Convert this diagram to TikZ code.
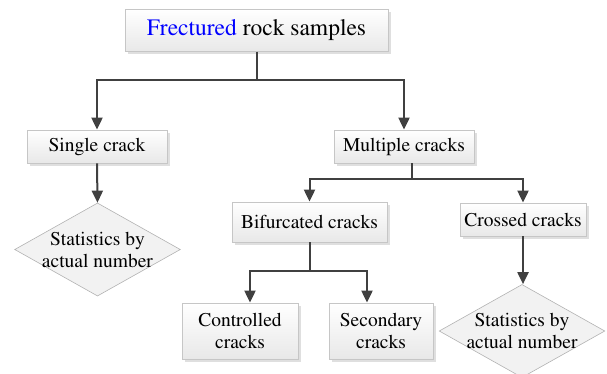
\documentclass[tikz,border=0pt]{standalone}
\usepackage[T1]{fontenc}
\usepackage{mathptmx}
\usetikzlibrary{positioning, shapes, arrows.meta, shadows}

\begin{document}
\begin{tikzpicture}[x=1pt, y=-1pt,
      box/.style={rectangle, draw=gray!45, line width=0.8pt, top color=white, bottom color=gray!18,
        drop shadow={shadow xshift=2.5pt, shadow yshift=-2.5pt, opacity=0.25},
        font=\fontsize{19.5}{22}\selectfont, align=center, inner sep=0pt},
      dec/.style={diamond, draw=gray!60, line width=0.6pt, fill=gray!10, aspect=1.78,
        inner sep=-1.5pt, font=\fontsize{19.5}{22}\selectfont, align=center},
      link/.style={draw=black!75, line width=2pt, -{Triangle[width=11pt, length=12pt]}}]
      \useasboundingbox (0,0) rectangle (607,373);
      \node[box, minimum width=263pt, minimum height=42pt, font=\fontsize{23.5}{26}\selectfont] (samples) at (256.5,30.5) {\textcolor{blue}{Frectured} rock samples};
      \node[box, minimum width=140pt, minimum height=33pt] (single) at (97,146.5) {Single crack};
      \node[box, minimum width=140pt, minimum height=33pt] (multiple) at (404,146.5) {Multiple cracks};
      \node[dec] (stat1) at (97.5,249.5) {Statistics by\\actual number};
      \node[box, minimum width=155pt, minimum height=40pt] (bifurcated) at (309.5,222) {Bifurcated cracks};
      \node[box, minimum width=126pt, minimum height=33pt] (crossed) at (523,219.5) {Crossed cracks};
      \node[box, minimum width=116pt, minimum height=56pt] (controlled) at (240,331) {Controlled\\cracks};
      \node[box, minimum width=104pt, minimum height=56pt] (secondary) at (381,331) {Secondary\\cracks};
      \node[dec] (stat2) at (522,331) {Statistics by\\actual number};

      \draw[link] (samples.south) -- ++(0,28) -| (single.north);
      \draw[link] (samples.south) -- ++(0,28) -| (multiple.north);
      \draw[link] (single.south) -- (stat1.north);
      \draw[link] ([xshift=8pt]multiple.south) -- ++(0,16) -| (bifurcated.north);
      \draw[link] ([xshift=8pt]multiple.south) -- ++(0,16) -| (crossed.north);
      \draw[link] (bifurcated.south) -- ++(0,29) -| ([xshift=10pt]controlled.north);
      \draw[link] (bifurcated.south) -- ++(0,29) -| ([xshift=-14pt]secondary.north);
      \draw[link] (crossed.south) -- (crossed.south |- stat2.north);
\end{tikzpicture}
\end{document}
